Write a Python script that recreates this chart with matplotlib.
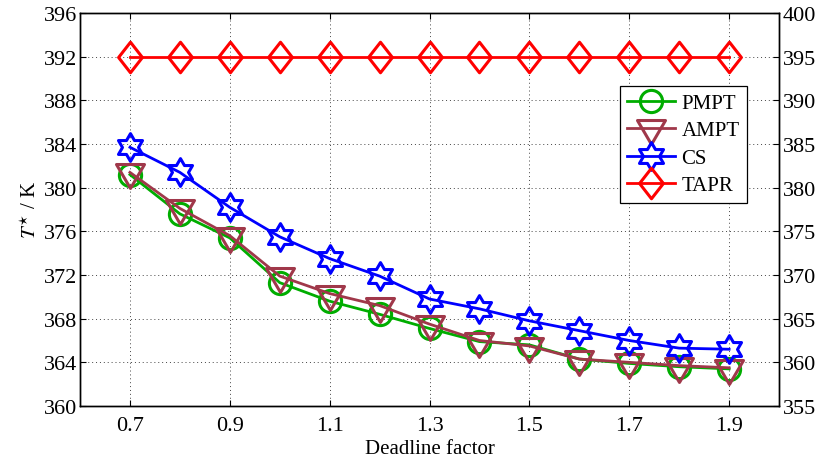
import numpy as np
import matplotlib
matplotlib.use('Agg')
import matplotlib.pyplot as plt
from matplotlib.path import Path

plt.rcParams['font.family'] = ['Liberation Serif', 'DejaVu Serif']
plt.rcParams['mathtext.fontset'] = 'stix'

# Temperature vs. deadline factor for four schedulers
deadline = [0.7, 0.8, 0.9, 1.0, 1.1, 1.2, 1.3, 1.4, 1.5, 1.6, 1.7, 1.8, 1.9]
pmpt = [381.2, 377.6, 375.4, 371.3, 369.6, 368.4, 367.1, 365.9, 365.6, 364.3, 363.9, 363.6, 363.4]
ampt = [381.4, 378.1, 375.6, 371.9, 370.3, 369.2, 367.5, 366.0, 365.5, 364.3, 364.0, 363.7, 363.5]
cs = [383.7, 381.4, 378.2, 375.5, 373.5, 371.9, 369.8, 368.9, 367.8, 366.9, 366.0, 365.3, 365.2]
tapr = [392.0] * 13

xticks = [0.7, 0.9, 1.1, 1.3, 1.5, 1.7, 1.9]
left_ticks = np.arange(360, 397, 4)
right_ticks = np.arange(355, 401, 5)


def closed(verts):
    verts = list(verts) + [verts[0]]
    codes = [Path.MOVETO] + [Path.LINETO] * (len(verts) - 2) + [Path.CLOSEPOLY]
    return Path(verts, codes)


def hexagram():
    # six-pointed star with points up and down
    ang = np.pi / 2 + np.arange(12) * np.pi / 6
    r = np.where(np.arange(12) % 2 == 0, 1.0, 1 / np.sqrt(3))
    return closed([(a, b) for a, b in zip(r * np.cos(ang), r * np.sin(ang))])


def diamond():
    return closed([(0, 1), (0.78, 0), (0, -1), (-0.78, 0)])


def down_triangle():
    # centred on the centroid, wider than tall
    return closed([(-1, 0.57), (1, 0.57), (0, -1.14)])


fig = plt.figure(figsize=(8.19, 4.60), dpi=100)
ax = fig.add_axes([0.0977, 0.1152, 0.8535, 0.8544])

style = dict(lw=2.0, mew=2.2, mfc='none')
ax.plot(deadline, pmpt, color='#00ad00', marker='o', ms=16, label='PMPT', **style)
ax.plot(deadline, ampt, color='#a0384a', marker=down_triangle(), ms=23, label='AMPT', **style)
ax.plot(deadline, cs, color='#0000ff', marker=hexagram(), ms=20, label='CS', **style)
ax.plot(deadline, tapr, color='#ff0000', marker=diamond(), ms=22, label='TAPR', **style)

ax.set_xlim(0.6, 2.0)
ax.set_ylim(360, 396)
ax.set_xticks(xticks)
ax.set_xticklabels(['%.1f' % v for v in xticks])
ax.set_yticks(left_ticks)
ax.grid(True, linestyle=(0, (1, 3)), color='#444444', lw=0.7)
ax.tick_params(direction='in', length=4, labelsize=16, top=True, width=0.8)
ax.tick_params(axis='x', pad=7)
ax.tick_params(axis='y', pad=2)
ax.set_xlabel('Deadline factor', fontsize=15, labelpad=3)
ax.set_ylabel(r'$T^{\star}$ / K', fontsize=15, labelpad=2)

ax2 = ax.twinx()
ax2.set_ylim(355, 400)
ax2.set_yticks(right_ticks)
ax2.tick_params(direction='in', length=4, labelsize=16, width=0.8, pad=2.5)

for a in (ax, ax2):
    for s in a.spines.values():
        s.set_linewidth(1.0)

leg = ax.legend(loc='upper right', bbox_to_anchor=(0.954, 0.814), fontsize=15,
                fancybox=False, framealpha=1, edgecolor='black',
                labelspacing=0.38, handlelength=2.3, handletextpad=0.3,
                borderpad=0.35, borderaxespad=0)
leg.get_frame().set_linewidth(0.9)

fig.savefig('out.png', dpi=100)
